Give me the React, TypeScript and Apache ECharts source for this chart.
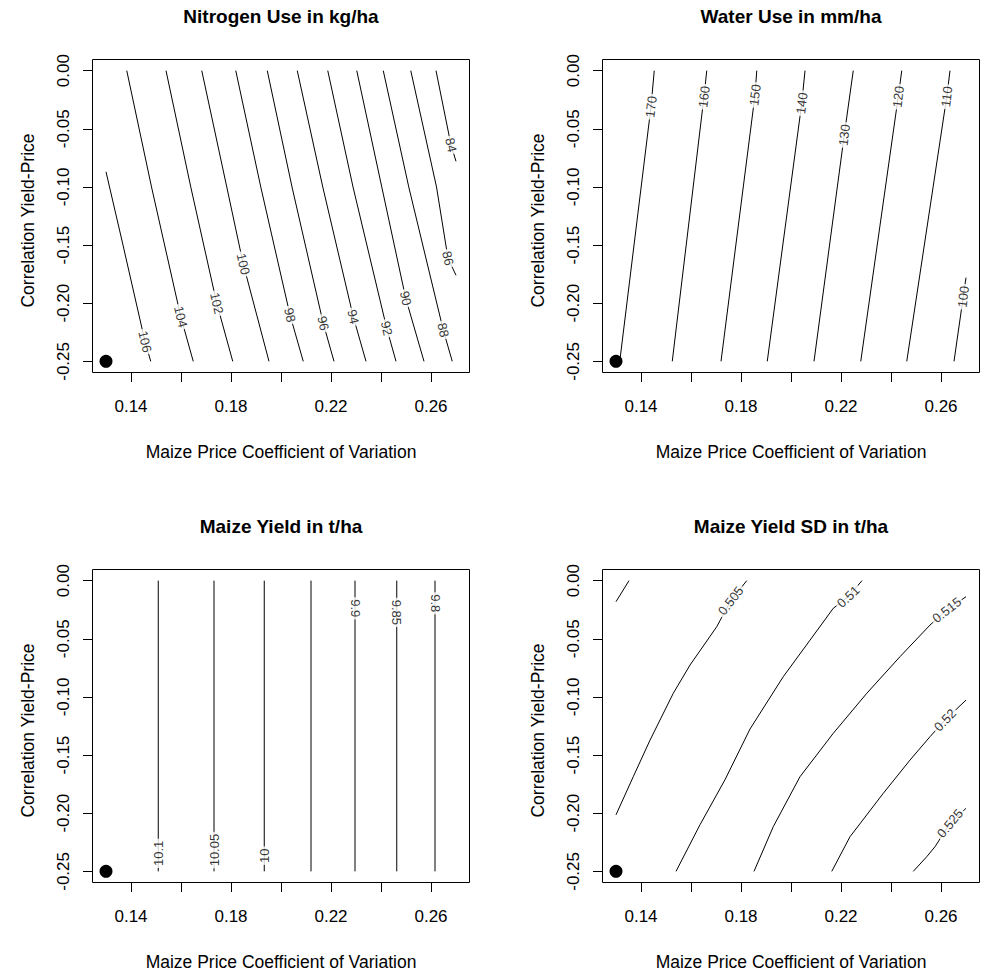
import React, { useEffect, useRef } from "react";
import * as echarts from "echarts";

const FONT = "'Liberation Sans', Arial, Helvetica, sans-serif";

// ---------- shared axis data ----------
const panelTitles = [
  "Nitrogen Use in kg/ha",
  "Water Use in mm/ha",
  "Maize Yield in t/ha",
  "Maize Yield SD in t/ha",
];
const xAxisTitle = "Maize Price Coefficient of Variation";
const yAxisTitle = "Correlation Yield-Price";
const xTicks = [0.14, 0.16, 0.18, 0.2, 0.22, 0.24, 0.26];
const xTickLabels = [0.14, 0.18, 0.22, 0.26];
const yTicks = [-0.25, -0.2, -0.15, -0.1, -0.05, 0];
const xRange = [0.13, 0.27];
const yRange = [-0.25, 0];
const baselinePoint = [0.13, -0.25];

// ---------- Nitrogen Use (kg/ha) ----------
const nitrogenLevels = ["106", "104", "102", "100", "98", "96", "94", "92", "90", "88", "86", "84"];
const nitrogenLines = [
  [[0.13, -0.087], [0.1368, -0.15], [0.1456, -0.233], [0.1479, -0.25]],
  [[0.1383, 0], [0.1482, -0.1], [0.1599, -0.2116], [0.1649, -0.25]],
  [[0.154, 0], [0.1639, -0.1], [0.1743, -0.2001], [0.1807, -0.25]],
  [[0.1683, 0], [0.1783, -0.1], [0.1849, -0.1663], [0.1952, -0.25]],
  [[0.1819, 0], [0.1919, -0.1], [0.2036, -0.2101], [0.2089, -0.25]],
  [[0.1945, 0], [0.2044, -0.1], [0.2169, -0.2173], [0.2212, -0.25]],
  [[0.2065, 0], [0.2167, -0.1], [0.2289, -0.2116], [0.234, -0.25]],
  [[0.2187, 0], [0.2288, -0.1], [0.2423, -0.2216], [0.246, -0.25]],
  [[0.2303, 0], [0.2403, -0.1], [0.2499, -0.1958], [0.2572, -0.25]],
  [[0.2409, 0], [0.2511, -0.1], [0.2649, -0.223], [0.2685, -0.25]],
  [[0.2519, 0], [0.2622, -0.1], [0.2668, -0.1614], [0.27, -0.176]],
  [[0.262, 0], [0.268, -0.064], [0.27, -0.078]],
];
const nitrogenLabelAt = [
  [0.1456, -0.233], [0.1599, -0.2116], [0.1743, -0.2001], [0.1849, -0.1663],
  [0.2036, -0.2101], [0.2169, -0.2173], [0.2289, -0.2116], [0.2423, -0.2216],
  [0.2499, -0.1958], [0.2649, -0.223], [0.2668, -0.1614], [0.268, -0.064],
];

// ---------- Water Use (mm/ha) ----------
const waterLevels = ["170", "160", "150", "140", "130", "120", "110", "100"];
const waterLines = [
  [[0.1315, -0.25], [0.144, -0.031], [0.1453, 0]],
  [[0.1525, -0.25], [0.1652, -0.0224], [0.1663, 0]],
  [[0.172, -0.25], [0.1856, -0.021], [0.1863, 0]],
  [[0.1905, -0.25], [0.2043, -0.0281], [0.2056, 0]],
  [[0.2092, -0.25], [0.2213, -0.0554], [0.2249, 0]],
  [[0.2279, -0.25], [0.2429, -0.0224], [0.2443, 0]],
  [[0.2463, -0.25], [0.2623, -0.0224], [0.2636, 0]],
  [[0.2652, -0.25], [0.2689, -0.1944], [0.27, -0.178]],
];
const waterLabelAt = [
  [0.144, -0.031], [0.1652, -0.0224], [0.1856, -0.021], [0.2043, -0.0281],
  [0.2213, -0.0554], [0.2429, -0.0224], [0.2623, -0.0224], [0.2689, -0.1944],
];

// ---------- Maize Yield (t/ha) ----------
const yieldLevels = ["10.1", "10.05", "10", "9.95", "9.9", "9.85", "9.8"];
const yieldLineX = [0.1509, 0.1732, 0.1933, 0.212, 0.2296, 0.2463, 0.2616];
const yieldLabelAt = [
  [0.1509, -0.2345], [0.1732, -0.2317], [0.1933, -0.2365], null,
  [0.2296, -0.0238], [0.2463, -0.0273], [0.2616, -0.0195],
];

// ---------- Maize Yield SD (t/ha) ----------
const sdLevels = ["0.5", "0.505", "0.51", "0.515", "0.52", "0.525"];
const sdLines = [
  [[0.13, -0.0181], [0.1352, 0]],
  [[0.13, -0.2014], [0.1369, -0.1686], [0.1436, -0.1372], [0.1529, -0.0969], [0.1596, -0.0726], [0.1703, -0.0396], [0.1759, -0.0173], [0.1823, 0]],
  [[0.154, -0.25], [0.1636, -0.2099], [0.1736, -0.1712], [0.1836, -0.1276], [0.1969, -0.0826], [0.2076, -0.0512], [0.2169, -0.0238], [0.2229, -0.0138], [0.2284, 0]],
  [[0.1852, -0.25], [0.1929, -0.2116], [0.2036, -0.1686], [0.2169, -0.1313], [0.2303, -0.0969], [0.2436, -0.0654], [0.2556, -0.0382], [0.2623, -0.0253], [0.27, -0.0138]],
  [[0.2163, -0.25], [0.2236, -0.2202], [0.2369, -0.1829], [0.2476, -0.1543], [0.2556, -0.1342], [0.2616, -0.1199], [0.27, -0.1027]],
  [[0.2489, -0.25], [0.2543, -0.2374], [0.2576, -0.2288], [0.2636, -0.2087], [0.27, -0.1958]],
];
const sdLabelAt = [null, [0.1759, -0.0173], [0.2229, -0.0138], [0.2623, -0.0253], [0.2616, -0.1199], [0.2636, -0.2087]];

// label text rotation (style)
const nitrogenAngles = nitrogenLevels.map(() => -77);
const waterAngles = waterLevels.map(() => 83);
const yieldAngles = [90, 90, 90, 90, -90, -90, -90];
const sdAngles = [0, 52, 43, 38, 46, 50];

// plot boxes (the visible frame of each panel)
const BOXES = [
  { left: 92, top: 59, width: 378, height: 314 },
  { left: 602, top: 59, width: 378, height: 314 },
  { left: 92, top: 569, width: 378, height: 314 },
  { left: 602, top: 569, width: 378, height: 314 },
];
const TICK_LEN = 9;

function ext(r: number[]) {
  const d = (r[1] - r[0]) * 0.04;
  return [r[0] - d, r[1] + d];
}

function panelSeries(panel: number, levels: string[], lines: number[][][], labelAt: (number[] | null)[], angles: number[], yMin: number) {
  const out: any[] = [];
  lines.forEach((pts) => {
    out.push({
      type: "line",
      xAxisIndex: panel,
      yAxisIndex: panel,
      data: pts,
      symbol: "none",
      showSymbol: false,
      lineStyle: { color: "#000", width: 1 },
      silent: true,
      z: 2,
    });
  });
  const labelData: any[] = [];
  levels.forEach((t, i) => {
    const p = labelAt[i];
    if (!p) return;
    labelData.push({ value: p, label: { formatter: t, rotate: angles[i] } });
  });
  out.push({
    type: "scatter",
    xAxisIndex: panel,
    yAxisIndex: panel,
    symbolSize: 1,
    itemStyle: { color: "rgba(0,0,0,0)" },
    silent: true,
    z: 5,
    label: {
      show: true,
      position: "inside",
      fontSize: 13,
      fontFamily: FONT,
      color: "#000",
      backgroundColor: "#fff",
      padding: [0, 2],
    },
    data: labelData,
  });
  out.push({
    type: "scatter",
    xAxisIndex: panel,
    yAxisIndex: panel,
    symbolSize: 13,
    itemStyle: { color: "#000", opacity: 1 },
    silent: true,
    z: 6,
    data: [baselinePoint],
  });
  // x-axis tick marks below the frame, positioned through the axis scale
  out.push({
    type: "custom",
    xAxisIndex: panel,
    yAxisIndex: panel,
    silent: true,
    clip: false,
    z: 100,
    encode: { x: 0, y: 1 },
    data: xTicks.map((v) => [v, yMin]),
    renderItem: (_params: any, api: any) => {
      const p = api.coord([api.value(0), api.value(1)]);
      const x = Math.round(p[0]) + 0.5;
      return {
        type: "line",
        shape: { x1: x, y1: Math.round(p[1]), x2: x, y2: Math.round(p[1]) + TICK_LEN },
        style: { stroke: "#000", lineWidth: 1 },
      };
    },
  });
  return out;
}

export default function App() {
  const ref = useRef<HTMLDivElement>(null);
  useEffect(() => {
    if (!ref.current) return;
    const chart = echarts.init(ref.current, null, { renderer: "svg" });
    const xr = ext(xRange);
    const yr = ext(yRange);
    // the grid reaches TICK_LEN px below the frame so the tick strip lies inside it
    const yMinGrid = yr[0] - (TICK_LEN * (yr[1] - yr[0])) / BOXES[0].height;
    const yieldLines = yieldLineX.map((x) => [[x, yRange[1]], [x, yRange[0]]]);

    const series = [
      ...panelSeries(0, nitrogenLevels, nitrogenLines, nitrogenLabelAt, nitrogenAngles, yr[0]),
      ...panelSeries(1, waterLevels, waterLines, waterLabelAt, waterAngles, yr[0]),
      ...panelSeries(2, yieldLevels, yieldLines, yieldLabelAt, yieldAngles, yr[0]),
      ...panelSeries(3, sdLevels, sdLines, sdLabelAt, sdAngles, yr[0]),
    ];

    const tickText = { color: "#000", fontFamily: FONT, fontSize: 17 };
    const nameText = { color: "#000", fontFamily: FONT, fontSize: 17.5 };

    const titleGraphics = BOXES.map((g, i) => ({
      type: "text",
      x: g.left + g.width / 2,
      y: g.top - 43,
      style: {
        text: panelTitles[i],
        textAlign: "center",
        textVerticalAlign: "middle",
        font: `bold 19px ${FONT}`,
        fill: "#000",
      },
    }));
    const frameGraphics = BOXES.map((g) => ({
      type: "rect",
      silent: true,
      z: 50,
      shape: { x: g.left + 0.5, y: g.top + 0.5, width: g.width - 1, height: g.height - 1 },
      style: { fill: "none", stroke: "#000", lineWidth: 1 },
    }));

    const option: any = {
      animation: false,
      backgroundColor: "#fff",
      grid: BOXES.map((g) => ({ left: g.left, top: g.top, width: g.width, height: g.height + TICK_LEN, show: false })),
      xAxis: BOXES.map((_, i) => ({
        type: "value",
        gridIndex: i,
        position: "bottom",
        min: xr[0],
        max: xr[1],
        axisLine: { show: false, onZero: false },
        splitLine: { show: false },
        axisTick: { show: true, inside: true, length: TICK_LEN, customValues: xTicks, lineStyle: { color: "#000", width: 1 } },
        axisLabel: { show: true, customValues: xTickLabels, formatter: (v: number) => v.toFixed(2), margin: 16, ...tickText },
        name: xAxisTitle,
        nameLocation: "middle",
        nameGap: 61,
        nameTextStyle: { ...nameText },
      })),
      yAxis: BOXES.map((_, i) => ({
        type: "value",
        gridIndex: i,
        position: "left",
        min: yMinGrid,
        max: yr[1],
        axisLine: { show: false, onZero: false },
        splitLine: { show: false },
        axisTick: { show: true, inside: false, length: TICK_LEN, customValues: yTicks, lineStyle: { color: "#000" } },
        axisLabel: { show: true, customValues: yTicks, formatter: (v: number) => v.toFixed(2), rotate: 90, margin: 20, ...tickText },
        name: yAxisTitle,
        nameLocation: "middle",
        nameGap: 55,
        nameRotate: 90,
        nameTextStyle: { ...nameText },
      })),
      graphic: [...titleGraphics, ...frameGraphics],
      series,
    };
    chart.setOption(option);
    return () => chart.dispose();
  }, []);
  return (
    <div
      ref={ref}
      style={{ position: "fixed", left: 0, top: 0, width: 981, height: 975, background: "#fff" }}
    />
  );
}
